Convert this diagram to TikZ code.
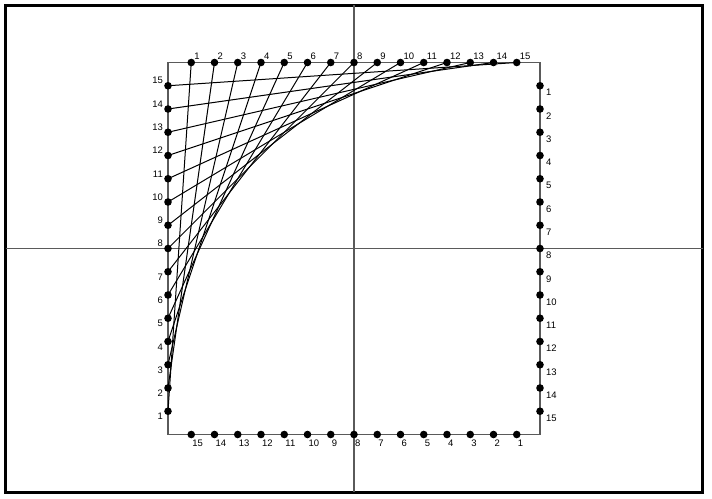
\documentclass[tikz,border=0pt]{standalone}
\usepackage{fontspec}
\setmainfont{Liberation Sans}
\definecolor{gris}{RGB}{90,90,90}
\tikzset{
  cadre/.style={line width=3bp},
  axe/.style={draw=gris,line width=1.2bp},
  fil/.style={line width=1bp},
  lbl/.style={inner sep=0pt,font=\fontsize{9.5}{10}\selectfont}
}
\begin{document}
\begin{tikzpicture}[x=1bp,y=-1bp]
		\useasboundingbox (0,0) rectangle (712,499);
		% cadre
		\draw[cadre] (5.5,5.5) rectangle (702.5,492);
		% axes
		\coordinate (axeN) at (354,5.5);
		\coordinate (axeS) at (354,492);
		\coordinate (axeO) at (5.5,248.5);
		\coordinate (axeE) at (702.5,248.5);
		\draw[axe] (axeN)--(axeS);
		\draw[axe] (axeO)--(axeE);
		% carre
		\coordinate (NO) at (168,62.5);
		\coordinate (SE) at (540,434.5);
		\draw[axe] (NO) rectangle (SE);
		% points sur les cotes
		\foreach \i in {1,...,15}{
			\coordinate (T\i) at (168+23.25*\i,62.5);
			\coordinate (G\i) at (168,434.5-23.25*\i);
			\coordinate (D\i) at (540,62.5+23.25*\i);
			\coordinate (B\i) at (540-23.25*\i,434.5);
		}
		% fils
		\foreach \i in {1,...,15}
			\draw[fil] (G\i)--(T\i);
		% points et numeros
		\foreach \i in {1,...,15}{
			\fill (T\i) circle (3.8);
			\fill (G\i) circle (3.8);
			\fill (D\i) circle (3.8);
			\fill (B\i) circle (3.8);
			\node[lbl,anchor=south west] (nT\i) at ([shift={(3,-3)}]T\i) {\i};
			\node[lbl,anchor=north west] (nD\i) at ([shift={(6,3.5)}]D\i) {\i};
			\node[lbl,anchor=north west] (nB\i) at ([shift={(1,5.5)}]B\i) {\i};
			\ifnum\i<8
				\node[lbl,anchor=north east] (nG\i) at ([shift={(-5,2)}]G\i) {\i};
			\else
				\node[lbl,anchor=south east] (nG\i) at ([shift={(-5,-1.5)}]G\i) {\i};
			\fi
		}
\end{tikzpicture}
\end{document}
